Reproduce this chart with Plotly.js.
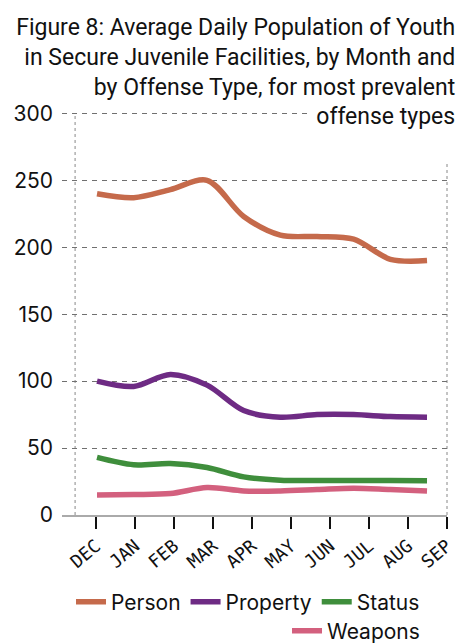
<!DOCTYPE html>
<html>
<head>
<meta charset="utf-8">
<script src="https://cdn.plot.ly/plotly-3.0.1.min.js"></script>
<style>html,body{margin:0;padding:0;background:#fff;}#chart{width:457px;height:644px;}</style>
</head>
<body>
<div id="chart"></div>
<script>
// Tick labels (months)
const months = ['DEC','JAN','FEB','MAR','APR','MAY','JUN','JUL','AUG','SEP'];
// Tick positions for month labels
const monthPos = [0, 1, 2, 3, 4, 5, 6, 7, 8, 9];
// Observation index for each sample
const obs = [0, 1, 2, 3, 4, 5, 6, 7, 8, 9];
// Series values (average daily population)
const person   = [240, 237, 243, 250, 223, 209, 208, 206, 191, 190];
const property = [100, 96, 105, 97, 78, 73, 75, 75, 73.5, 73];
const status   = [43, 37.5, 38.5, 35.5, 28.5, 26, 25.8, 25.8, 25.8, 25.5];
const weapons  = [15, 15.3, 16, 20.5, 18, 18, 19, 20, 19, 18];

const seriesNames  = ['Person', 'Property', 'Status', 'Weapons'];
const seriesValues = [person, property, status, weapons];
const seriesColors = ['#c56a4b', '#6e2b84', '#3f8e3c', '#d3607e'];
const seriesLegend = ['legend', 'legend', 'legend', 'legend2'];

const traces = seriesNames.map((name, k) => ({
  type: 'scatter',
  mode: 'lines',
  name: name,
  x: obs,
  y: seriesValues[k],
  xaxis: 'x2',
  yaxis: 'y',
  line: {color: seriesColors[k], width: 5.5, shape: 'spline', smoothing: 0.9},
  legend: seriesLegend[k],
  hoverinfo: 'x+y+name'
}));

// carrier trace (no visible marks) so the month axis is drawn
traces.unshift({
  type: 'scatter', mode: 'lines',
  x: monthPos, y: monthPos.map(() => null),
  xaxis: 'x', yaxis: 'y',
  showlegend: false, hoverinfo: 'skip'
});

const layout = {
  width: 457,
  height: 644,
  margin: {l: 62, r: 10, t: 112, b: 129},
  paper_bgcolor: '#ffffff',
  plot_bgcolor: '#ffffff',
  showlegend: true,
  title: {
    text: 'Figure 8: Average Daily Population of Youth<br>in Secure Juvenile Facilities, by Month and<br>by Offense Type, for most prevalent<br>offense types',
    font: {family: 'Roboto, sans-serif', size: 23, color: '#111'},
    xref: 'container', x: 0.996, xanchor: 'right',
    yref: 'container', y: 0.946, yanchor: 'top'
  },
  xaxis: {
    type: 'linear',
    range: [-0.872, 9],
    tickmode: 'array',
    tickvals: monthPos,
    ticktext: months,
    tickangle: -40,
    ticks: 'outside',
    ticklen: 12,
    tickwidth: 2,
    tickcolor: '#111',
    tickfont: {family: 'DejaVu Sans Mono, monospace', size: 18, color: '#111'},
    showgrid: false,
    showline: true,
    linecolor: '#aaaaaa',
    linewidth: 1.5,
    zeroline: false,
    fixedrange: true
  },
  xaxis2: {
    overlaying: 'x',
    anchor: 'y',
    range: [-0.955, 9.545],
    visible: false,
    showgrid: false,
    zeroline: false
  },
  yaxis: {
    range: [0, 301],
    tickvals: [0, 50, 100, 150, 200, 250, 300],
    showgrid: true,
    gridcolor: '#707070',
    gridwidth: 1,
    griddash: '5px,5px',
    zeroline: false,
    showline: false,
    ticks: '',
    ticklabelstandoff: 8,
    tickfont: {family: 'Inter, sans-serif', size: 21, color: '#111'},
    fixedrange: true
  },
  shapes: [
    {type: 'line', xref: 'paper', yref: 'y', x0: 0.034, x1: 0.034, y0: 0, y1: 298,
     line: {color: '#888', width: 1, dash: 'dot'}, layer: 'below'},
    {type: 'line', xref: 'paper', yref: 'y', x0: 1, x1: 1, y0: 0, y1: 298,
     line: {color: '#888', width: 1, dash: 'dot'}, layer: 'below'},
    {type: 'rect', xref: 'paper', yref: 'paper', x0: 0.64, x1: 1.03, y0: 0.875, y1: 1.04,
     fillcolor: '#ffffff', line: {width: 0}, layer: 'above'}
  ],
  legend: {
    orientation: 'h',
    xref: 'container', yref: 'container',
    x: 0.93, xanchor: 'right',
    y: 0.065, yanchor: 'middle',
    font: {family: 'Inter, sans-serif', size: 21, color: '#111'},
    itemwidth: 30,
    tracegroupgap: 0,
    bgcolor: 'rgba(0,0,0,0)'
  },
  legend2: {
    orientation: 'h',
    xref: 'container', yref: 'container',
    x: 0.93, xanchor: 'right',
    y: 0.02, yanchor: 'middle',
    font: {family: 'Inter, sans-serif', size: 21, color: '#111'},
    itemwidth: 30,
    bgcolor: 'rgba(0,0,0,0)'
  }
};

Plotly.newPlot('chart', traces, layout, {displayModeBar: false, staticPlot: true});
</script>
</body>
</html>
